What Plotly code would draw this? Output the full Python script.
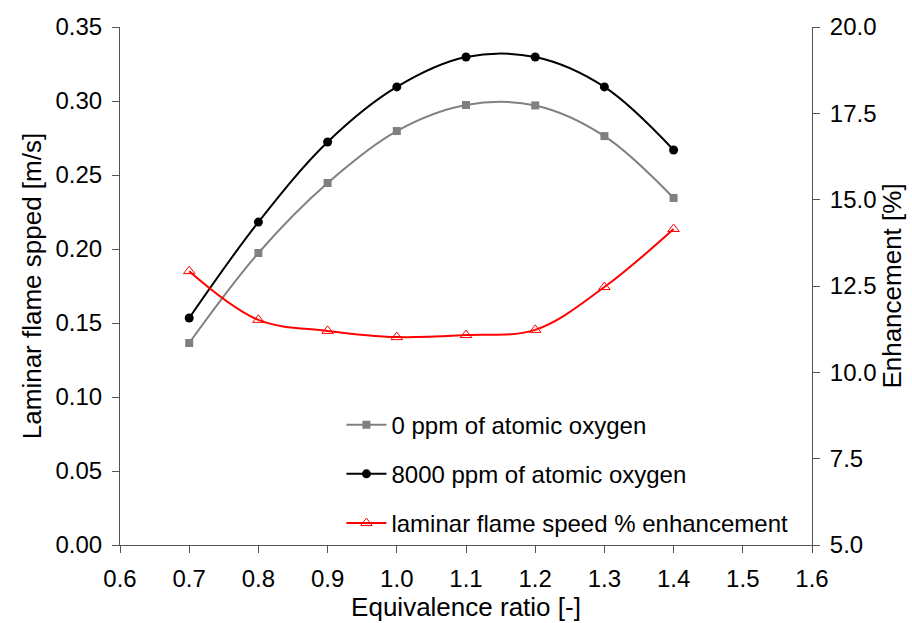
import plotly.graph_objects as go

phi = [0.7, 0.8, 0.9, 1.0, 1.1, 1.2, 1.3, 1.4]
s_0ppm = [0.1365, 0.1973, 0.2446, 0.2797, 0.2973, 0.2970, 0.2763, 0.2345]
s_8000ppm = [0.1534, 0.2182, 0.2723, 0.3095, 0.3297, 0.3297, 0.3095, 0.2669]
enh = [12.93, 11.52, 11.20, 11.02, 11.08, 11.23, 12.47, 14.15]

font = "Liberation Sans, Arial, Helvetica, sans-serif"

fig = go.Figure()
fig.add_trace(go.Scatter(x=phi, y=s_0ppm, name="0 ppm of atomic oxygen",
                         mode="lines+markers", line=dict(color="#808080", width=2, shape="spline"),
                         marker=dict(symbol="square", size=8, color="#808080"),
                         legendgroup="a"))
fig.add_trace(go.Scatter(x=phi, y=s_8000ppm, name="8000 ppm of atomic oxygen",
                         mode="lines+markers", line=dict(color="black", width=2, shape="spline"),
                         marker=dict(symbol="circle", size=9, color="black"),
                         legendgroup="b"))
fig.add_trace(go.Scatter(x=phi, y=enh, name="laminar flame speed % enhancement",
                         mode="lines+markers", line=dict(color="red", width=2, shape="spline"),
                         marker=dict(symbol="triangle-up-open", size=10, color="red"),
                         yaxis="y2", legendgroup="c"))

axcommon = dict(showgrid=False, zeroline=False, showline=True, linecolor="#555555", linewidth=1,
                ticks="outside", ticklen=7, tickcolor="#555555", ticklabelstandoff=5,
                tickfont=dict(size=24, color="black", family=font))

fig.update_layout(
    width=912, height=623,
    margin=dict(l=120, r=100, t=27, b=78),
    paper_bgcolor="white", plot_bgcolor="white",
    font=dict(family=font, color="black"),
    xaxis=dict(range=[0.6, 1.6], dtick=0.1, tickformat=".1f",
               title=dict(text="Equivalence ratio [-]", font=dict(size=26), standoff=2), **axcommon),
    yaxis=dict(range=[0, 0.35], dtick=0.05, tickformat=".2f",
               title=dict(text="Laminar flame spped [m/s]", font=dict(size=26), standoff=6), **axcommon),
    yaxis2=dict(range=[5, 20], dtick=2.5, tickformat=".1f", overlaying="y", side="right",
                title=dict(text="Enhancement [%]", font=dict(size=26), standoff=6), **axcommon),
    legend=dict(x=0.32, y=0.275, xanchor="left", yanchor="top", bgcolor="rgba(0,0,0,0)",
                font=dict(size=24, family=font), tracegroupgap=15, itemwidth=40),
    showlegend=True,
)

fig.write_html("out.html")
